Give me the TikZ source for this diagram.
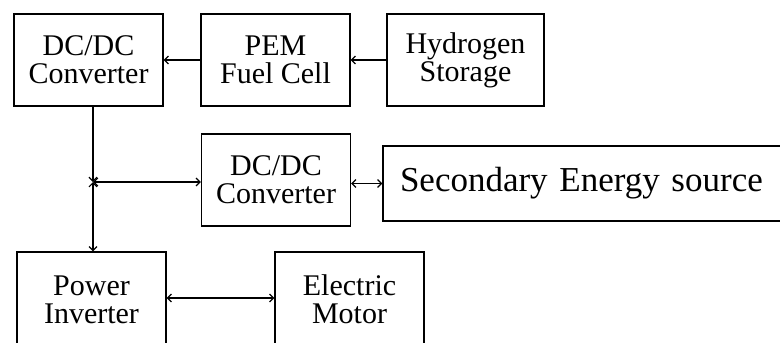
\documentclass[tikz,border=0pt]{standalone}
\usepackage{fontspec}
\setmainfont{Liberation Serif}
\usetikzlibrary{arrows.meta}
\begin{document}
\begin{tikzpicture}[
    x=1pt, y=-1pt,
    line width=1.2pt,
    >={Straight Barb[length=4pt,width=8pt]},
    block/.style={draw, align=center, inner sep=0pt,
        font=\fontsize{30}{28}\selectfont},
    small block/.style={block, minimum width=149pt, minimum height=92pt}
]
\useasboundingbox (0,0) rectangle (780,343);
% top row
\node[small block] (conv1) at (88.5,60) {DC/DC\\Converter};
\node[small block] (pem) at (275.5,60) {PEM\\Fuel Cell};
\node[small block, minimum width=157pt] (hyd) at (465.5,60) {Hydrogen\\Storage};
% middle row
\node[small block] (conv2) at (276,180) {DC/DC\\Converter};
\node[block, minimum width=420pt, minimum height=75pt,
      font=\fontsize{35}{30}\selectfont, text width=386pt, align=left] (sec) at (593,183.5)
      {Secondary Energy source};
% bottom row
\node[small block, minimum height=95pt] (inv) at (91.5,299.5) {Power\\Inverter};
\node[small block, minimum height=95pt] (mot) at (349.5,299.5) {Electric\\Motor};
\coordinate (j) at (93,182);
\draw[->] (hyd) -- (pem);
\draw[->] (pem) -- (conv1);
\draw[->] (j |- conv1.south) -- (j);
\draw[<->] (j) -- (j -| conv2.west);
\draw[<->] (j) -- (j |- inv.north);
\draw[<->] (conv2.east |- sec) -- (sec.west);
\draw[<->] (inv.east |- 0,298) -- (mot.west |- 0,298);
\end{tikzpicture}
\end{document}
